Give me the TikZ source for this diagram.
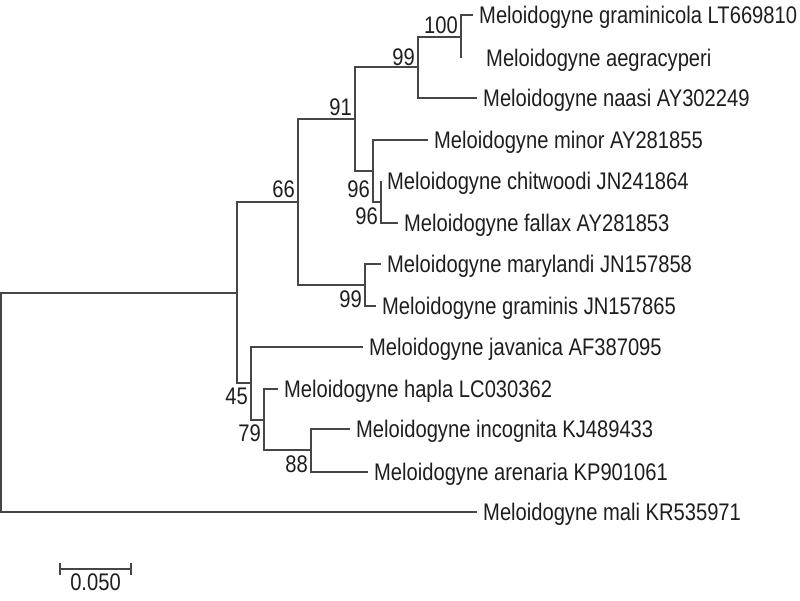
\documentclass[tikz,border=0pt]{standalone}
\usepackage{fontspec}
\setmainfont[FakeStretch=0.84]{Liberation Sans}
\usepackage{tikz}
\usetikzlibrary{calc}
\definecolor{branchgray}{RGB}{70, 70, 70}
\definecolor{textgray}{RGB}{30, 30, 30}
\tikzset{branch/.style = {line width = 1.3pt, branchgray},
  taxon/.style = {anchor = base west, inner sep = 0pt, xshift = 6pt, yshift = -8pt, text = textgray, font = \fontsize{24}{28}\selectfont},
  bootup/.style = {anchor = base east, inner sep = 0pt, xshift = -3pt, yshift = 4pt, text = textgray, font = \fontsize{24}{28}\selectfont},
  bootdown/.style = {anchor = north east, inner sep = 0pt, xshift = -3pt, yshift = -6pt, text = textgray, font = \fontsize{24}{28}\selectfont}}

\begin{document}
\begin{tikzpicture}[x = 1pt, y = -1pt]
\useasboundingbox (0,0) rectangle (800,600);
\coordinate (root) at (1,402);
\coordinate (nA) at (237,293);
\coordinate (n66) at (298,202);
\coordinate (n91) at (355,119);
\coordinate (n99) at (418,67);
\coordinate (n100) at (461,37);
\coordinate (n96a) at (373,171);
\coordinate (n96b) at (381,202);
\coordinate (n99b) at (365,285);
\coordinate (n45) at (251,383);
\coordinate (n79) at (264,420);
\coordinate (n88) at (311,450);
\coordinate (tGraminicola) at (473,15);
\coordinate (tAegracyperi) at (461,58);
\coordinate (tNaasi) at (477,98);
\coordinate (tMinor) at (428,140);
\coordinate (tChitwoodi) at (381,181);
\coordinate (tFallax) at (398,223);
\coordinate (tMarylandi) at (381,264);
\coordinate (tGraminis) at (376,306);
\coordinate (tJavanica) at (363,347);
\coordinate (tHapla) at (278,389);
\coordinate (tIncognita) at (350,429);
\coordinate (tArenaria) at (368,472);
\coordinate (tMali) at (477,512);
\draw[branch] (root) |- (nA) (root) |- (tMali);
\draw[branch] (nA) |- (n66) (nA) |- (n45);
\draw[branch] (n66) |- (n91) (n66) |- (n99b);
\draw[branch] (n91) |- (n99) (n91) |- (n96a);
\draw[branch] (n99) |- (n100) (n99) |- (tNaasi);
\draw[branch] (n100) |- (tGraminicola) (n100) |- (tAegracyperi);
\draw[branch] (n96a) |- (tMinor) (n96a) |- (n96b);
\draw[branch] (n96b) |- (tChitwoodi) (n96b) |- (tFallax);
\draw[branch] (n99b) |- (tMarylandi) (n99b) |- (tGraminis);
\draw[branch] (n45) |- (tJavanica) (n45) |- (n79);
\draw[branch] (n79) |- (tHapla) (n79) |- (n88);
\draw[branch] (n88) |- (tIncognita) (n88) |- (tArenaria);
\node[taxon] (lGraminicola) at (tGraminicola) {Meloidogyne graminicola LT669810};
\node[taxon, xshift = 19pt] (lAegracyperi) at (tAegracyperi) {Meloidogyne aegracyperi};
\node[taxon] (lNaasi) at (tNaasi) {Meloidogyne naasi AY302249};
\node[taxon] (lMinor) at (tMinor) {Meloidogyne minor AY281855};
\node[taxon] (lChitwoodi) at (tChitwoodi) {Meloidogyne chitwoodi JN241864};
\node[taxon] (lFallax) at (tFallax) {Meloidogyne fallax AY281853};
\node[taxon] (lMarylandi) at (tMarylandi) {Meloidogyne marylandi JN157858};
\node[taxon] (lGraminis) at (tGraminis) {Meloidogyne graminis JN157865};
\node[taxon] (lJavanica) at (tJavanica) {Meloidogyne javanica AF387095};
\node[taxon] (lHapla) at (tHapla) {Meloidogyne hapla LC030362};
\node[taxon] (lIncognita) at (tIncognita) {Meloidogyne incognita KJ489433};
\node[taxon] (lArenaria) at (tArenaria) {Meloidogyne arenaria KP901061};
\node[taxon] (lMali) at (tMali) {Meloidogyne mali KR535971};
\node[bootup] (b100) at (n100) {100};
\node[bootup, yshift = -2pt] (b99) at (n99) {99};
\node[bootup] (b91) at (n91) {91};
\node[bootup, yshift = 1pt] (b66) at (n66) {66};
\node[bootdown, yshift = -4pt] (b96a) at (n96a) {96};
\node[bootdown] (b96b) at (n96b) {96};
\node[bootdown] (b99b) at (n99b) {99};
\node[bootdown, yshift = 1pt] (b45) at (n45) {45};
\node[bootdown, yshift = 1pt] (b79) at (n79) {79};
\node[bootdown] (b88) at (n88) {88};
\coordinate (sL) at (60,569);
\coordinate (sR) at (131,569);
\draw[branch] (sL) -- (sR);
\draw[branch] ($(sL)+(0,-6)$) -- ($(sL)+(0,6)$) ($(sR)+(0,-6)$) -- ($(sR)+(0,6)$);
\node[anchor = north, inner sep = 0pt, yshift = -5pt, text = textgray, font = \fontsize{24}{28}\selectfont] (scale) at ($(sL)!0.5!(sR)$) {0.050};
\end{tikzpicture}
\end{document}
